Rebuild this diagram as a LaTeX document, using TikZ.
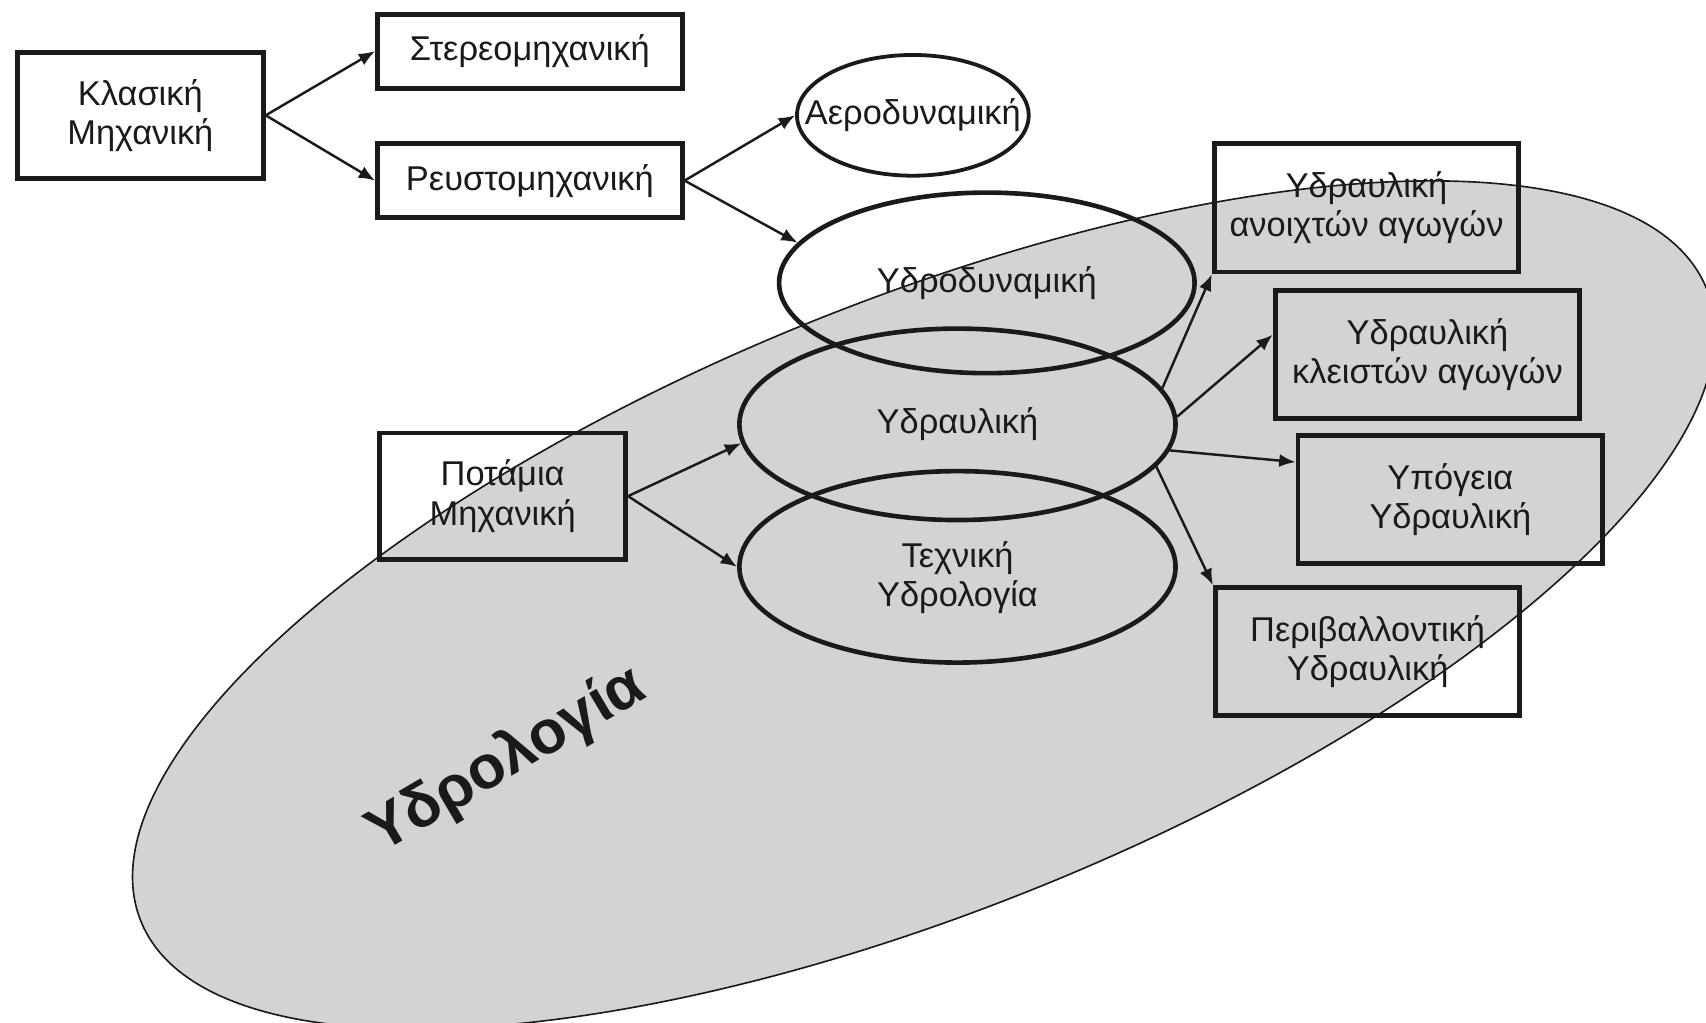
\documentclass[tikz,border=0pt]{standalone}
\usepackage{fontspec}
\setmainfont{Liberation Sans}
\usetikzlibrary{
  arrows.meta,
  shapes.geometric,
  calc
}
\definecolor{hydrogray}{HTML}{D3D3D5}
\definecolor{hydroink}{HTML}{1A1A1A}

\begin{document}
\begin{tikzpicture}[
      x=0.02cm, y=-0.02cm,
      box/.style={
        rectangle, draw=hydroink, line width=0.09cm,
        minimum width=5.6cm, minimum height=2.36cm,
        inner sep=0pt, align=center,
        font=\fontsize{18}{20.5}\selectfont\color{hydroink}
      },
      oval/.style={
        ellipse, draw=hydroink, line width=0.085cm,
        minimum width=8.02cm, minimum height=3.52cm,
        inner sep=0pt, align=center,
        font=\fontsize{18}{20.5}\selectfont\color{hydroink}
      },
      arrow/.style={-{Latex[length=0.3cm, width=0.24cm]}, line width=0.045cm, hydroink},
      field/.style={draw=hydroink, line width=0.03cm, fill=hydrogray},
      title/.style={font=\fontsize{32}{36}\selectfont\bfseries\color{hydroink}, rotate=30.5}
    ]
      \useasboundingbox (0,0) rectangle (1568,940);

      % shaded field behind the nodes
      \draw[field, rotate around={22:(849,556)}] (849,556) ellipse [x radius=776, y radius=280];
      \node[title] (hydrology) at (466,699) {Υδρολογία};

      \node[box, minimum width=4.52cm, minimum height=2.32cm] (klasiki) at (129,106) {Κλασική\\Μηχανική};
      \node[box, minimum height=1.36cm] (stereo) at (487,47) {Στερεομηχανική};
      \node[box, minimum height=1.36cm] (reusto) at (487,166) {Ρευστομηχανική};
      \node[box, minimum width=4.52cm, minimum height=2.32cm] (potamia) at (462,456) {Ποτάμια\\Μηχανική};

      \node[oval, line width=0.07cm, minimum width=4.26cm, minimum height=2.22cm] (aero) at (839,106) {\makebox[0pt]{Αεροδυναμική}};
      \node[oval, minimum width=7.64cm, minimum height=3.32cm] (ydrodyn) at (907,260) {Υδροδυναμική};
      \node[oval] (ydraul) at (880,390) {Υδραυλική};
      \node[oval] (techn) at (880,521) {\rule{0pt}{0.88cm}Τεχνική\\Υδρολογία};

      \node[box] (anoixt) at (1256,191) {Υδραυλική\\ανοιχτών αγωγών};
      \node[box] (kleist) at (1312,326) {Υδραυλική\\κλειστών αγωγών};
      \node[box] (ypog) at (1333,459) {Υπόγεια\\Υδραυλική};
      \node[box] (perib) at (1257,599) {Περιβαλλοντική\\Υδραυλική};

      \draw[arrow] (klasiki.east) -- (stereo.west);
      \draw[arrow] (klasiki.east) -- (reusto.west);
      \draw[arrow] (reusto.east) -- (aero.west);
      \draw[arrow] (reusto.east) -- (ydrodyn.168);
      \draw[arrow] (potamia.east) -- (ydraul.185);
      \draw[arrow] (potamia.east) -- (techn.west);

      \draw[arrow] (ydraul.10) -- (anoixt.south west);
      \draw[arrow] (ydraul.2) -- ($(kleist.west)!0.3!(kleist.north west)$);
      \draw[arrow] (ydraul.-7) -- ($(ypog.west)!0.56!(ypog.north west)$);
      \draw[arrow] (ydraul.-12) -- (perib.north west);
    \end{tikzpicture}
\end{document}
